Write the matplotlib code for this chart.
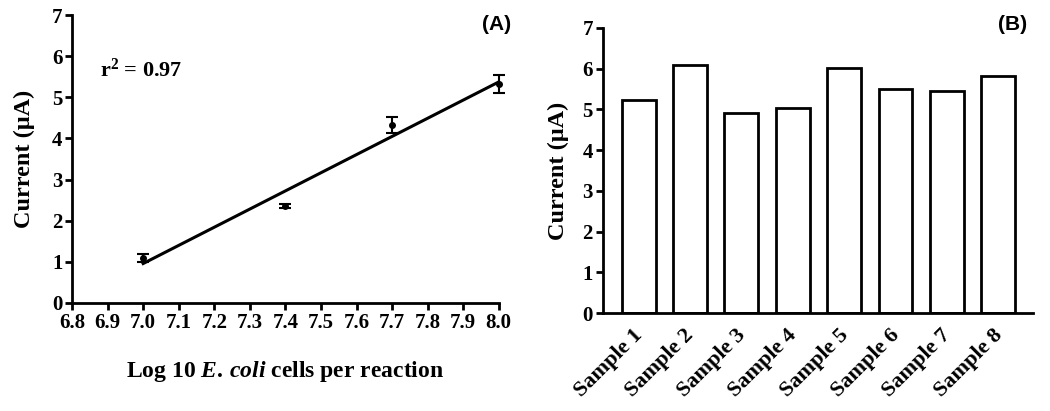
import numpy as np
import matplotlib
matplotlib.use("Agg")
import matplotlib.pyplot as plt
import matplotlib.transforms as mtransforms

# Panel A data
log_cells = [7.0, 7.4, 7.7, 8.0]
current_a = [1.09, 2.36, 4.33, 5.32]
err_a = [0.10, 0.05, 0.19, 0.21]
xticks_a = [6.8, 6.9, 7.0, 7.1, 7.2, 7.3, 7.4, 7.5, 7.6, 7.7, 7.8, 7.9, 8.0]

# Panel B data
samples = ["Sample 1", "Sample 2", "Sample 3", "Sample 4",
           "Sample 5", "Sample 6", "Sample 7", "Sample 8"]
current_b = [5.24, 6.10, 4.91, 5.04, 6.02, 5.50, 5.45, 5.83]

serif = "Liberation Serif"
sans = "Liberation Sans"
plt.rcParams["mathtext.fontset"] = "custom"
plt.rcParams["mathtext.rm"] = "Liberation Serif:bold"
plt.rcParams["mathtext.it"] = "Liberation Serif:bold:italic"
plt.rcParams["mathtext.bf"] = "Liberation Serif:bold"

fig = plt.figure(figsize=(10.5, 4.11), dpi=100)
axA = fig.add_axes([0.0686, 0.263, 0.4064, 0.7005])
axB = fig.add_axes([0.574, 0.238, 0.410, 0.694])

for ax in (axA, axB):
    for s in ("top", "right"):
        ax.spines[s].set_visible(False)
    for s in ("left", "bottom"):
        ax.spines[s].set_linewidth(2.0)
    ax.tick_params(width=2.0, length=5, direction="out", pad=2)
    ax.set_ylim(0, 7)
    ax.set_yticks(range(0, 8))

# Panel A
axA.set_xlim(6.8, 8.0)
axA.set_xticks(xticks_a)
axA.set_xticklabels([f"{v:.1f}" for v in xticks_a])
axA.errorbar(log_cells, current_a, yerr=err_a, fmt="o", color="black",
             markersize=4, capsize=4, elinewidth=1.5, capthick=1.5, clip_on=False)
coef = np.polyfit(log_cells, current_a, 1)
xf = np.array([min(log_cells), max(log_cells)])
axA.plot(xf, np.polyval(coef, xf), color="black", linewidth=2.2)
axA.text(0.065, 0.81, r"r$^{2}$ = 0.97", transform=axA.transAxes,
         fontsize=16, fontweight="bold", family=serif, ha="left", va="center")
axA.set_ylabel("Current (μA)", fontsize=17.5, fontweight="bold", family=serif, labelpad=12)
axA.set_xlabel(r"Log 10 $\it{E.\,coli}$ cells per reaction", fontsize=17,
               fontweight="bold", family=serif, labelpad=19)

# Panel B
x = np.arange(len(samples))
axB.bar(x, current_b, width=0.66, color="white", edgecolor="black", linewidth=2.0)
axB.set_xlim(-0.7, 7.68)
axB.set_xticks(x)
axB.set_xticklabels(samples, rotation=45, ha="right", rotation_mode="anchor")
axB.tick_params(axis="x", length=0, pad=6)
axB.set_ylabel("Current (μA)", fontsize=17.5, fontweight="bold", family=serif, labelpad=10)

for ax in (axA, axB):
    for lab in ax.get_xticklabels() + ax.get_yticklabels():
        lab.set_fontfamily(serif)
        lab.set_fontweight("bold")
        lab.set_fontsize(15)
offset = mtransforms.ScaledTranslation(-6 / 100, -4 / 100, fig.dpi_scale_trans)
for lab in axB.get_xticklabels():
    lab.set_fontsize(16)
    lab.set_transform(lab.get_transform() + offset)

fig.text(0.487, 0.94, "(A)", fontsize=15, fontweight="bold", family=sans, ha="right", va="center")
fig.text(0.978, 0.94, "(B)", fontsize=15, fontweight="bold", family=sans, ha="right", va="center")

fig.savefig("out.png", dpi=100)
